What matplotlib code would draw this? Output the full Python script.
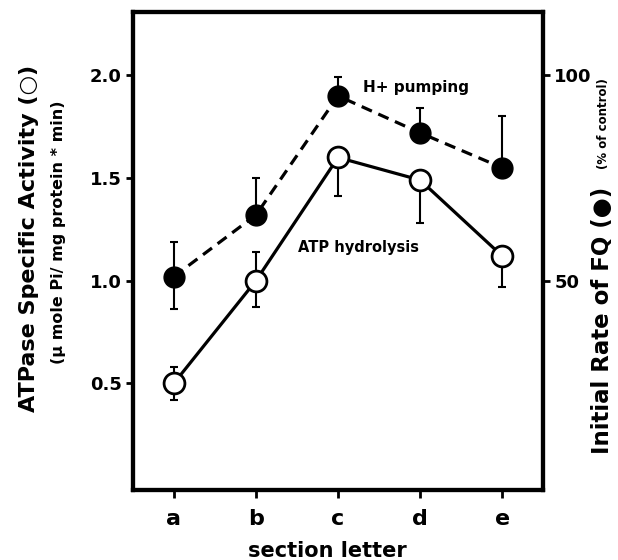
import numpy as np
import matplotlib
matplotlib.use("Agg")
import matplotlib.pyplot as plt

plt.rcParams['font.family'] = ['DejaVu Sans']
plt.rcParams['font.weight'] = 'bold'

# sections along the tube
sections = ["a", "b", "c", "d", "e"]

# ATPase specific activity (umole Pi / mg protein * min), open circles
atpase = [0.50, 1.00, 1.60, 1.49, 1.12]
atpase_err_lo = [0.08, 0.13, 0.19, 0.21, 0.15]
atpase_err_hi = [0.08, 0.14, 0.0, 0.0, 0.0]

# initial rate of FQ quenching (% of control), filled circles
pumping = [51, 66, 95, 86, 77.5]
pumping_err_lo = [8, 0, 0, 0, 0]
pumping_err_hi = [8.5, 9, 4.5, 6, 12.5]

left_ticks = [0.5, 1.0, 1.5, 2.0]
right_ticks = [50, 100]

x = np.arange(len(sections))

fig = plt.figure(figsize=(6.18, 5.6), dpi=100)
ax = fig.add_axes([0.215, 0.125, 0.664, 0.854])
ax2 = ax.twinx()

ylo, yhi = -0.02, 2.31
ax.set_ylim(ylo, yhi)
ax2.set_ylim(ylo * 50, yhi * 50)
ax.set_xlim(-0.5, 4.5)

# ATP hydrolysis
ax.errorbar(x, atpase, yerr=[atpase_err_lo, atpase_err_hi], fmt='none',
            ecolor='black', elinewidth=1.5, capsize=3, capthick=1.5, zorder=2)
ax.plot(x, atpase, '-', color='black', lw=2.3, marker='o', ms=15,
        mfc='white', mec='black', mew=2, zorder=3)

# H+ pumping
ax2.errorbar(x, pumping, yerr=[pumping_err_lo, pumping_err_hi], fmt='none',
             ecolor='black', elinewidth=1.5, capsize=3, capthick=1.5, zorder=2)
ax2.plot(x, pumping, color='black', lw=2.3, dashes=(3.5, 2.2), marker='o',
         ms=15, mfc='black', mec='black', zorder=3)

ax.set_yticks(left_ticks)
ax.set_yticklabels(["0.5", "1.0", "1.5", "2.0"])
ax2.set_yticks(right_ticks)
ax2.set_yticklabels(["50", "100"])
ax.set_xticks(x)
ax.set_xticklabels(sections)

ax.tick_params(axis='y', length=5, width=2, labelsize=13, pad=3)
ax.tick_params(axis='x', length=6, width=2, labelsize=16, pad=8)
ax2.tick_params(axis='y', length=5, width=2, labelsize=13, pad=3)

for sp in list(ax.spines.values()) + list(ax2.spines.values()):
    sp.set_linewidth(3)

fig.text(0.53, 0.006, "section letter", fontsize=15, ha='center',
         va='baseline')

# axis titles
fig.text(0.047, 0.575, "ATPase Specific Activity (\u25cb)", rotation=90,
         fontsize=16, ha='center', va='center')
fig.text(0.094, 0.586, "(\u03bc mole Pi/ mg protein * min)", rotation=90,
         fontsize=11.5, ha='center', va='center')
fig.text(0.975, 0.428, "Initial Rate of FQ (\u25cf)", rotation=90,
         fontsize=16.5, ha='center', va='center')
fig.text(0.977, 0.78, "(% of control)", rotation=90,
         fontsize=8.5, ha='center', va='center')

ax.text(2.3, 1.94, "H+ pumping", fontsize=11, va='center', ha='left')
ax.text(1.51, 1.16, "ATP hydrolysis", fontsize=10.5, va='center', ha='left')

fig.savefig("out.png", dpi=100)
